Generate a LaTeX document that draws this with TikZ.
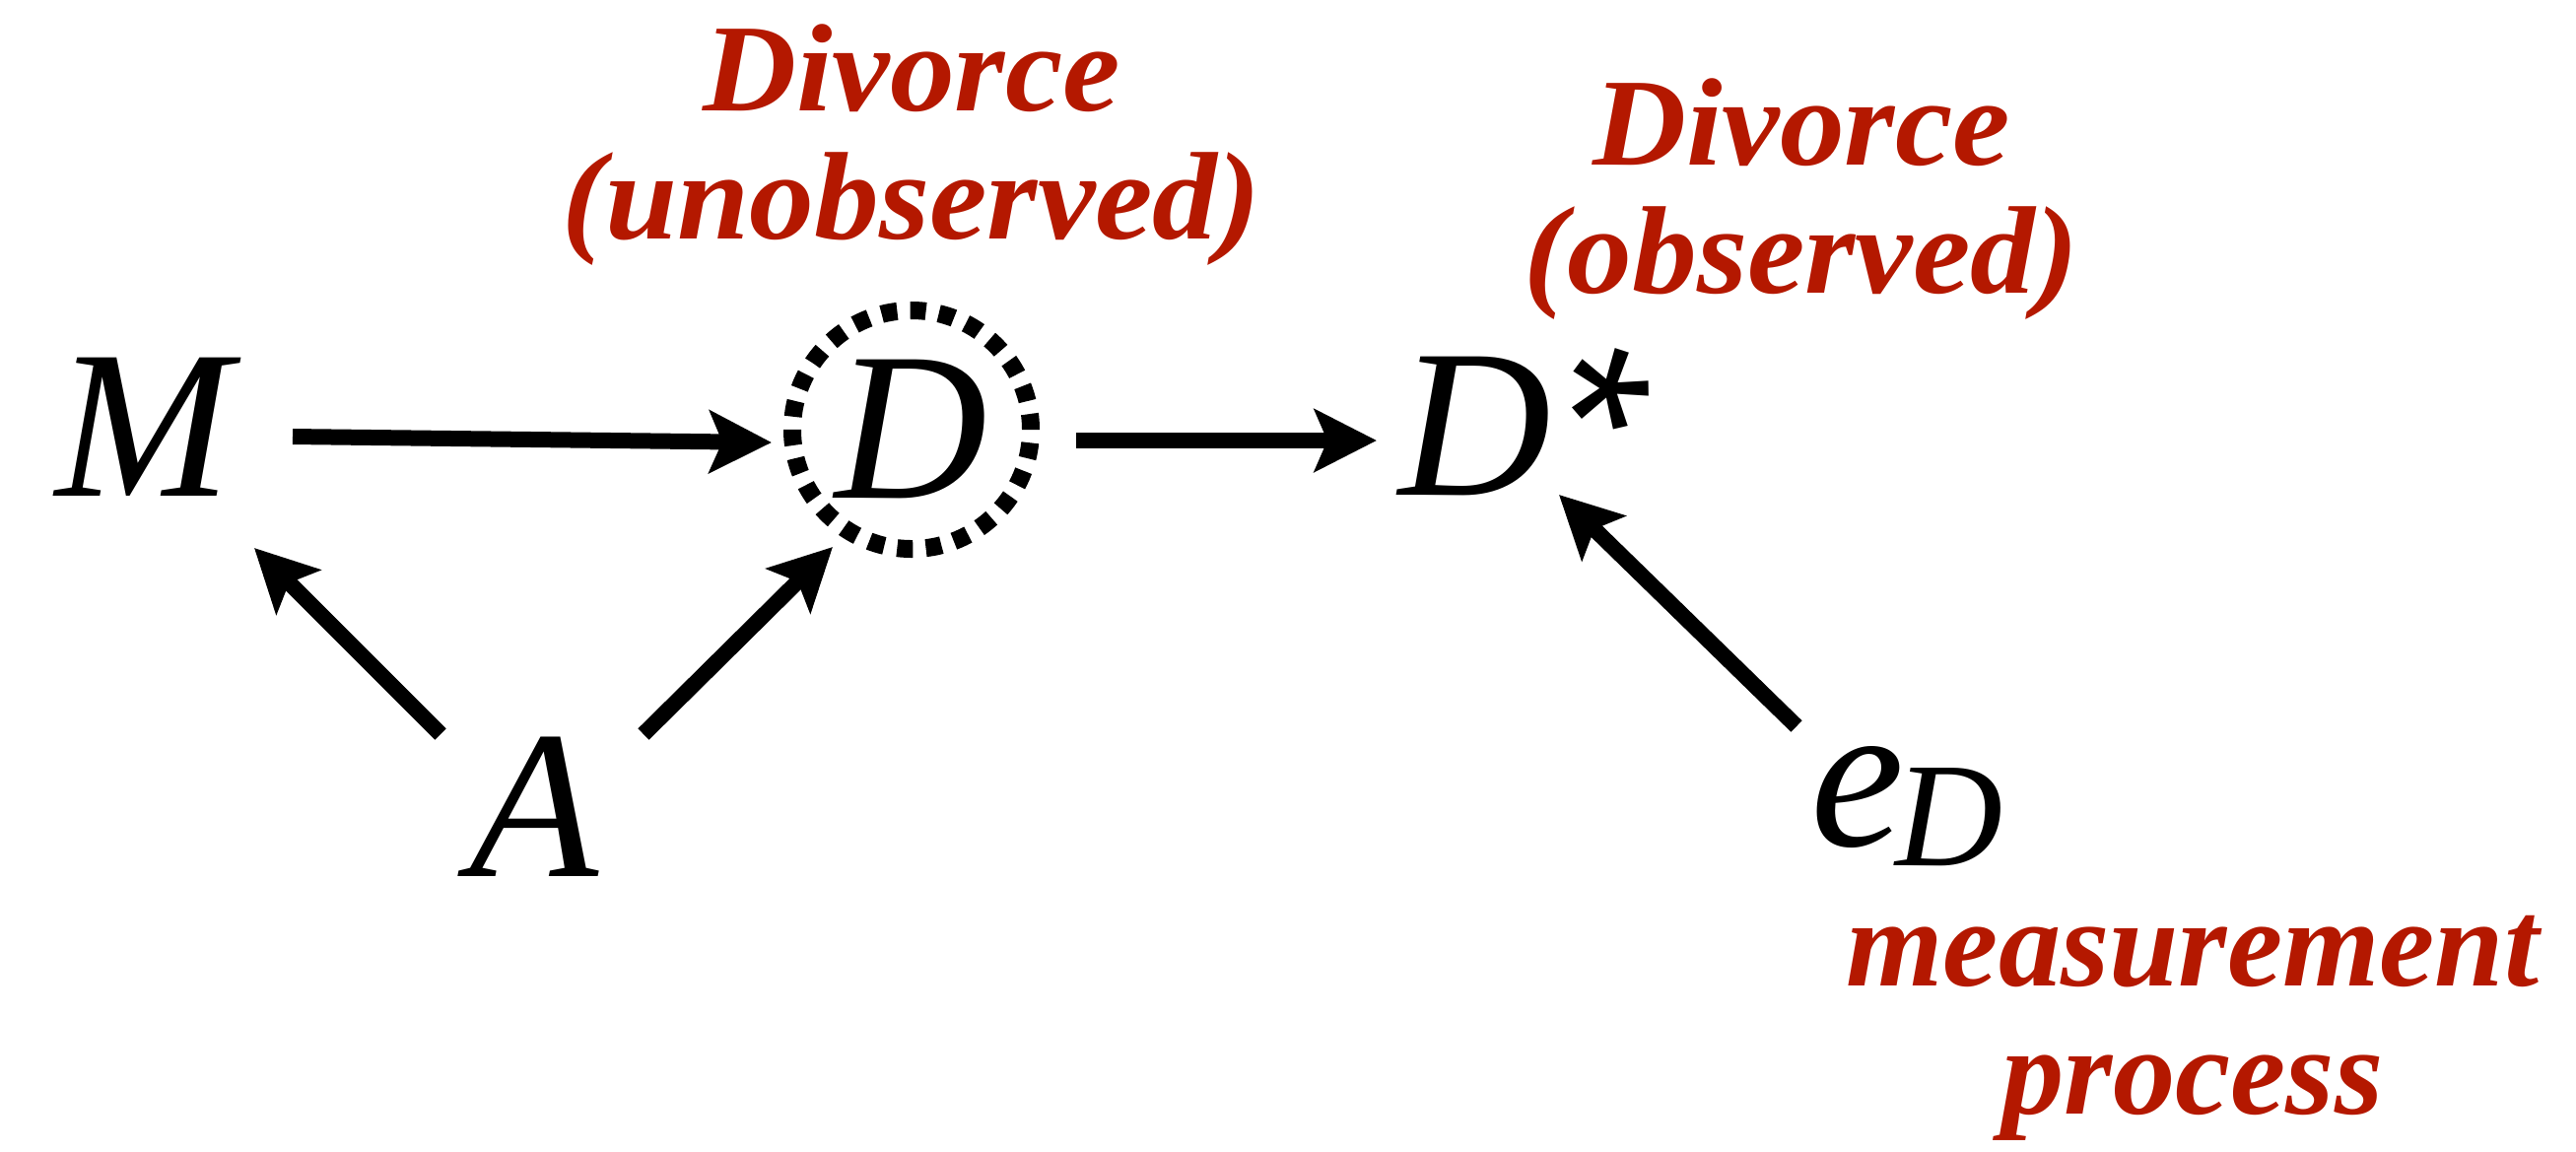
\documentclass[tikz,border=0pt]{standalone}
\usepackage{fontspec}
\setmainfont{Liberation Serif}
\newfontfamily\labfont[FakeStretch=1.04]{Liberation Serif}
\newfontfamily\starfont{Liberation Sans}
\usetikzlibrary{arrows.meta}
\definecolor{labred}{RGB}{180,24,0}
\tikzset{
  var/.style={font=\fontsize{61}{61}\selectfont\itshape, inner sep=0pt, outer sep=0pt},
  lab/.style={font=\fontsize{36}{37}\selectfont\bfseries\itshape, text=labred, align=center, inner sep=0pt},
  labw/.style={lab, font=\labfont\fontsize{36}{37}\selectfont\bfseries\itshape},
  arr/.style={line width=0.16cm, -{Stealth[length=0.63cm,width=0.63cm,inset=0.13cm]}},
  ring/.style={circle, draw, line width=0.18cm, dash pattern=on 0.16cm off 0.1324cm, minimum size=2.42cm}
}
\begin{document}
\begin{tikzpicture}
\useasboundingbox (0,0) rectangle (26.14,-11.68);
% variables
\node[var] (M) at (1.46,-4.33) {M};
\node[var, ring] (D) at (9.25,-4.36) {D};
\node[var] (Ds) at (14.97,-4.33) {D\rlap{\smash{\hspace{-0.27cm}\raisebox{-0.01cm}{\rotatebox[origin=c]{-18}{\starfont\fontsize{64}{64}\selectfont *}}}}};
\node[var] (A) at (5.42,-8.19) {A};
\node[var] (eD) at (19.35,-8.18) {e\hspace{-0.10cm}\raisebox{-0.2cm}{\fontsize{43}{43}\selectfont D}};
% labels
\node[labw] (lunobs) at (9.25,-1.47) {Divorce\\(unobserved)};
\node[labw] (lobs) at (18.28,-2.02) {Divorce\\(observed)};
\node[lab] (lmeas) at (22.25,-10.43) {measurement\\process};
% arrows
\draw[arr] ([shift={(1.51,-0.10)}]M.center) -- ([shift={(-1.42,-0.13)}]D.center);
\draw[arr] ([shift={(1.67,-0.11)}]D.center) -- ([shift={(-1.00,-0.14)}]Ds.center);
\draw[arr] ([shift={(-0.95,0.74)}]A.center) -- ([shift={(1.12,-1.23)}]M.center);
\draw[arr] ([shift={(1.11,0.74)}]A.center) -- ([shift={(-0.80,-1.19)}]D.center);
\draw[arr] ([shift={(-1.12,0.81)}]eD.center) -- ([shift={(0.85,-0.69)}]Ds.center);
\end{tikzpicture}
\end{document}
